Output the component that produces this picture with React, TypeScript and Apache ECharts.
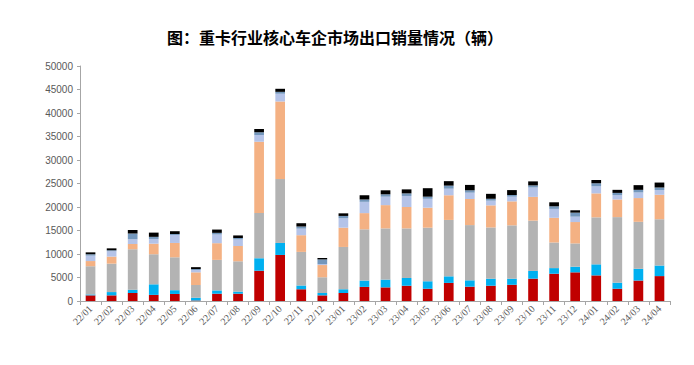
import React, { useEffect, useRef } from "react";
import * as echarts from "echarts";

const categories = [
  "22/01","22/02","22/03","22/04","22/05","22/06","22/07","22/08","22/09","22/10","22/11","22/12",
  "23/01","23/02","23/03","23/04","23/05","23/06","23/07","23/08","23/09","23/10","23/11","23/12",
  "24/01","24/02","24/03","24/04",
];

const redSeries = [1200,1200,1700,1300,1500,100,1550,1550,6450,9800,2500,1200,1700,3000,2900,3250,2600,3850,3050,3250,3450,4750,5800,6100,5450,2600,4350,5300];
const cyanSeries = [200,700,700,2250,800,600,700,450,2650,2550,800,500,800,1350,1650,1650,1600,1400,1350,1500,1300,1650,1200,1200,2350,1300,2500,2250];
const graySeries = [6000,6050,8600,6400,7000,2700,6500,6450,9650,13600,7150,3350,9000,10900,10900,10550,11400,12000,11750,10900,11350,10700,5450,4950,10000,13950,10000,9850];
const peachSeries = [1100,1500,1150,2250,3050,2700,3550,3250,15150,16500,3550,2600,4100,3450,4950,4550,4250,5250,5550,4700,5100,5050,5250,4550,5100,3750,5050,5200];
const lightBlueSeries = [1150,1150,1000,1000,1700,500,1850,1400,1400,1650,1400,200,2000,2400,1800,2350,1900,1400,1350,1000,1000,2000,1900,1150,1500,900,1200,1000];
const steelSeries = [300,200,1200,450,200,200,350,300,600,400,450,1000,500,500,500,550,450,650,500,400,350,450,550,850,650,500,550,550];
const blackSeries = [400,400,750,900,600,400,700,550,700,650,700,300,550,900,850,850,1800,950,1150,1050,1050,850,850,500,700,650,1000,1050];

const yTicks = [0, 5000, 10000, 15000, 20000, 25000, 30000, 35000, 40000, 45000, 50000];

const seriesDefs = [
  { name: "s1", data: redSeries, color: "#C00000" },
  { name: "s2", data: cyanSeries, color: "#00B0F0" },
  { name: "s3", data: graySeries, color: "#B3B3B3" },
  { name: "s4", data: peachSeries, color: "#F4B183" },
  { name: "s5", data: lightBlueSeries, color: "#B4C3E8" },
  { name: "s6", data: steelSeries, color: "#7397BC" },
  { name: "s7", data: blackSeries, color: "#000000" },
];

export default function App() {
  const ref = useRef<HTMLDivElement>(null);
  useEffect(() => {
    if (!ref.current) return;
    const chart = echarts.init(ref.current, undefined, { renderer: "svg" });
    const labelFont = "'Times New Roman', 'Liberation Serif', serif";
    chart.setOption({
      animation: false,
      backgroundColor: "#ffffff",
      title: {
        text: "图：重卡行业核心车企市场出口销量情况（辆）",
        left: 162,
        top: 24,
        textStyle: {
          fontSize: 16,
          fontWeight: "bold",
          color: "#000000",
          fontFamily: "'Noto Sans CJK SC', sans-serif",
        },
      },
      grid: { left: 80, right: 24, top: 66, bottom: 64, containLabel: false },
      xAxis: {
        type: "category",
        data: categories,
        axisLine: { show: true, lineStyle: { color: "#A6A6A6", width: 1 } },
        axisTick: { show: true, alignWithLabel: false, length: 4, lineStyle: { color: "#A6A6A6" } },
        axisLabel: {
          rotate: 45,
          fontSize: 10,
          color: "#595959",
          fontFamily: labelFont,
          interval: 0,
          margin: 6,
        },
      },
      yAxis: {
        type: "value",
        min: yTicks[0],
        max: yTicks[yTicks.length - 1],
        interval: 5000,
        axisLine: { show: true, lineStyle: { color: "#A6A6A6", width: 1 } },
        axisTick: { show: true, length: 3, lineStyle: { color: "#A6A6A6" } },
        splitLine: { show: false },
        axisLabel: {
          fontSize: 10,
          color: "#595959",
          fontFamily: "'Liberation Sans', Arial, sans-serif",
          margin: 7,
          formatter: (v: number) => String(v),
        },
      },
      series: seriesDefs.map((s) => ({
        name: s.name,
        type: "bar",
        stack: "total",
        data: s.data,
        barWidth: "46%",
        itemStyle: { color: s.color },
        emphasis: { disabled: true },
      })),
    });
    return () => chart.dispose();
  }, []);
  return (
    <div
      ref={ref}
      style={{ position: "fixed", left: 0, top: 0, width: 694, height: 365, background: "#fff" }}
    />
  );
}
